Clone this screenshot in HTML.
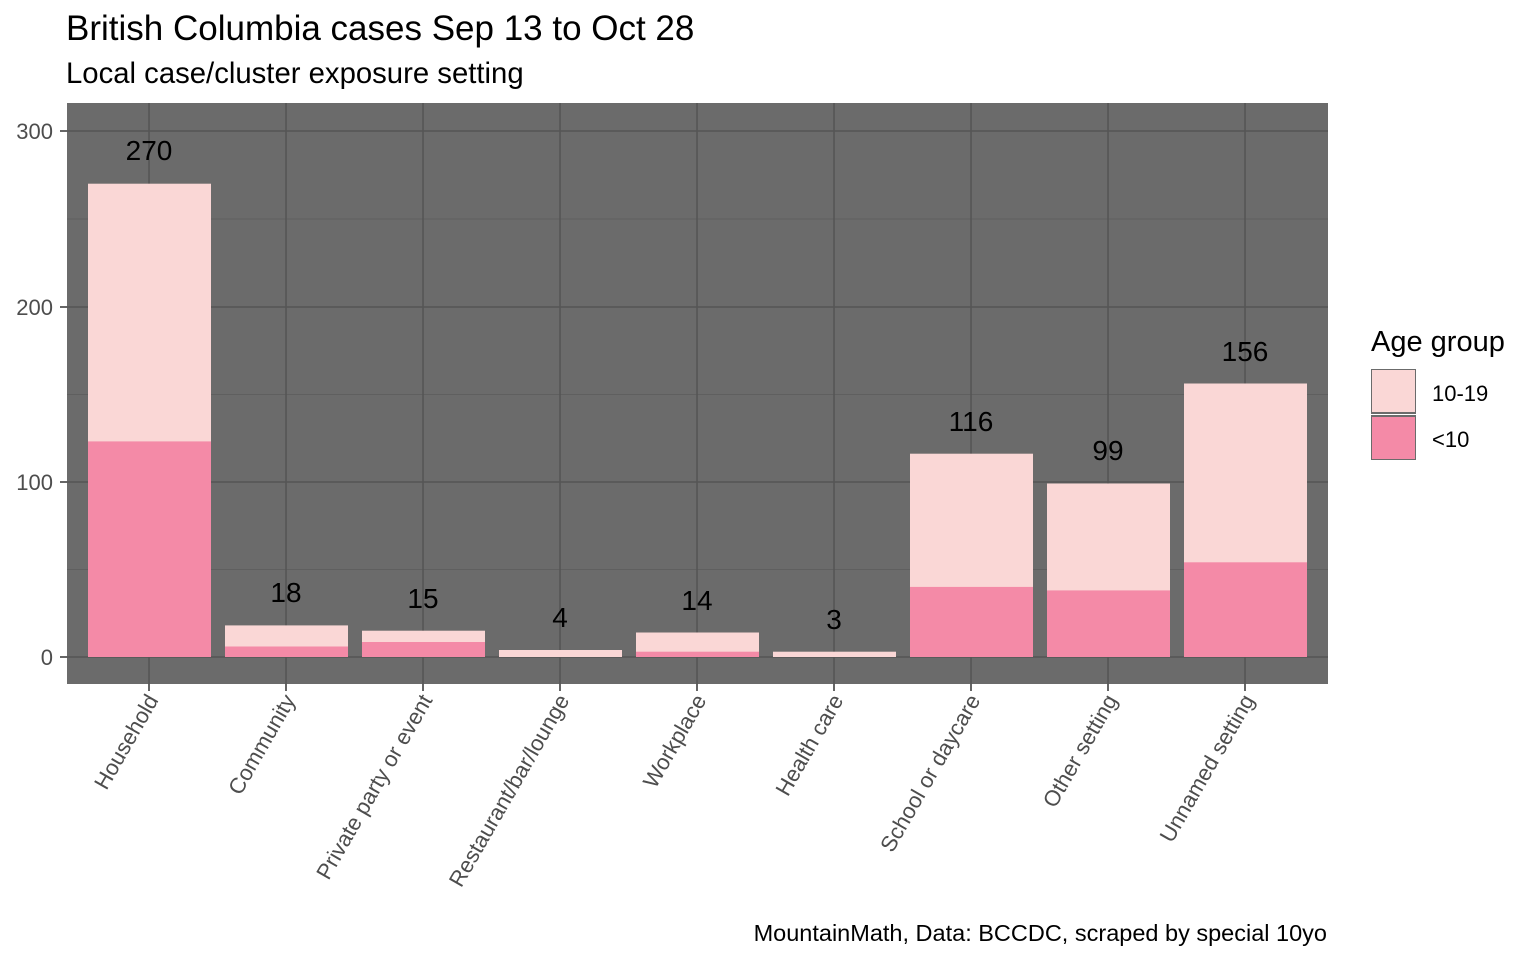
<!DOCTYPE html>
<html><head><meta charset="utf-8"><style>
body{margin:0;background:#fff}
svg text{font-family:"Liberation Sans",Arial,sans-serif}
</style></head><body>
<svg width="1536" height="960" viewBox="0 0 1536 960" xmlns="http://www.w3.org/2000/svg">
<rect width="1536" height="960" fill="#fff"/>
<text x="66" y="40" font-size="35" fill="#000">British Columbia cases Sep 13 to Oct 28</text>
<text x="66" y="83" font-size="29.3" fill="#000">Local case/cluster exposure setting</text>
<rect x="67" y="103" width="1261" height="581" fill="#6b6b6b"/>
<g stroke="#5f5f5f" stroke-width="1">
<line x1="67" x2="1328" y1="569.5" y2="569.5"/><line x1="67" x2="1328" y1="394.5" y2="394.5"/><line x1="67" x2="1328" y1="219" y2="219"/>
</g>
<g stroke="#555" stroke-width="1.6">
<line x1="67" x2="1328" y1="657" y2="657"/><line x1="67" x2="1328" y1="482" y2="482"/><line x1="67" x2="1328" y1="307" y2="307"/><line x1="67" x2="1328" y1="131" y2="131"/>
<line x1="149" x2="149" y1="103" y2="684"/><line x1="286" x2="286" y1="103" y2="684"/><line x1="423" x2="423" y1="103" y2="684"/><line x1="560" x2="560" y1="103" y2="684"/><line x1="697" x2="697" y1="103" y2="684"/><line x1="834" x2="834" y1="103" y2="684"/><line x1="971" x2="971" y1="103" y2="684"/><line x1="1108" x2="1108" y1="103" y2="684"/><line x1="1245" x2="1245" y1="103" y2="684"/>
</g>
<g>
<rect x="88" y="183.7" width="123" height="473.3" fill="#fad7d6"/><rect x="88" y="441.4" width="123" height="215.6" fill="#f48aa7"/>
<rect x="225" y="625.4" width="123" height="31.6" fill="#fad7d6"/><rect x="225" y="646.5" width="123" height="10.5" fill="#f48aa7"/>
<rect x="362" y="630.7" width="123" height="26.3" fill="#fad7d6"/><rect x="362" y="642" width="123" height="15" fill="#f48aa7"/>
<rect x="499" y="650" width="123" height="7" fill="#fad7d6"/>
<rect x="636" y="632.5" width="123" height="24.5" fill="#fad7d6"/><rect x="636" y="651.7" width="123" height="5.3" fill="#f48aa7"/>
<rect x="773" y="651.7" width="123" height="5.3" fill="#fad7d6"/>
<rect x="910" y="453.7" width="123" height="203.3" fill="#fad7d6"/><rect x="910" y="586.9" width="123" height="70.1" fill="#f48aa7"/>
<rect x="1047" y="483.5" width="123" height="173.5" fill="#fad7d6"/><rect x="1047" y="590.4" width="123" height="66.6" fill="#f48aa7"/>
<rect x="1184" y="383.5" width="123" height="273.5" fill="#fad7d6"/><rect x="1184" y="562.3" width="123" height="94.7" fill="#f48aa7"/>
</g>
<g font-size="28" fill="#000" text-anchor="middle">
<text x="149" y="160">270</text><text x="286" y="602">18</text><text x="423" y="608">15</text><text x="560" y="627">4</text><text x="697" y="610">14</text><text x="834" y="629">3</text><text x="971" y="431">116</text><text x="1108" y="460">99</text><text x="1245" y="361">156</text>
</g>
<g font-size="22" fill="#4d4d4d" text-anchor="end">
<text x="53" y="665">0</text><text x="53" y="490">100</text><text x="53" y="315">200</text><text x="53" y="139">300</text>
</g>
<g stroke="#333" stroke-width="1.5">
<line x1="60" x2="67" y1="657" y2="657"/><line x1="60" x2="67" y1="482" y2="482"/><line x1="60" x2="67" y1="307" y2="307"/><line x1="60" x2="67" y1="131" y2="131"/>
<line x1="149" x2="149" y1="684" y2="691"/><line x1="286" x2="286" y1="684" y2="691"/><line x1="423" x2="423" y1="684" y2="691"/><line x1="560" x2="560" y1="684" y2="691"/><line x1="697" x2="697" y1="684" y2="691"/><line x1="834" x2="834" y1="684" y2="691"/><line x1="971" x2="971" y1="684" y2="691"/><line x1="1108" x2="1108" y1="684" y2="691"/><line x1="1245" x2="1245" y1="684" y2="691"/>
</g>
<g font-size="22" fill="#4d4d4d" text-anchor="end">
<text transform="translate(159,700) rotate(-60)">Household</text>
<text transform="translate(296,700) rotate(-60)">Community</text>
<text transform="translate(433,700) rotate(-60)">Private party or event</text>
<text transform="translate(570,700) rotate(-60)">Restaurant/bar/lounge</text>
<text transform="translate(707,700) rotate(-60)">Workplace</text>
<text transform="translate(844,700) rotate(-60)">Health care</text>
<text transform="translate(981,700) rotate(-60)">School or daycare</text>
<text transform="translate(1118,700) rotate(-60)">Other setting</text>
<text transform="translate(1255,700) rotate(-60)">Unnamed setting</text>
</g>
<text x="1371" y="351" font-size="29" fill="#000">Age group</text>
<rect x="1371" y="369" width="45" height="45" fill="#6b6b6b"/>
<rect x="1372" y="370" width="43" height="42" fill="#fad7d6"/>
<rect x="1371" y="415" width="45" height="45" fill="#6b6b6b"/>
<rect x="1372" y="417" width="43" height="42" fill="#f48aa7"/>
<text x="1432" y="401" font-size="22" fill="#000">10-19</text>
<text x="1432" y="447" font-size="22" fill="#000">&lt;10</text>
<text x="1327" y="941" font-size="23.5" fill="#000" text-anchor="end">MountainMath, Data: BCCDC, scraped by special 10yo</text>
</svg>
</body></html>
